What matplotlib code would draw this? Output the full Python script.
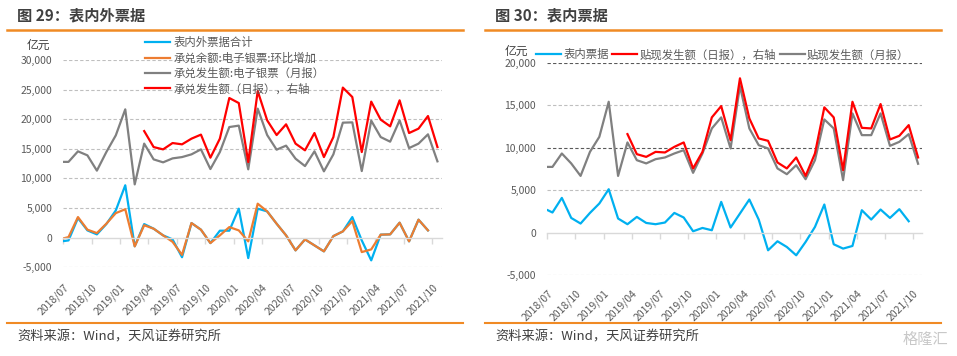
import numpy as np
import pandas as pd
import matplotlib
matplotlib.use("Agg")
import matplotlib.pyplot as plt
from matplotlib.lines import Line2D
from matplotlib.ticker import FuncFormatter

plt.rcParams['font.family'] = ['Noto Sans CJK SC', 'DejaVu Sans']

months = pd.period_range("2018-07", "2021-10", freq="M")
tick_labels = [m.strftime("%Y/%m") for m in months[::3]]

# 图29 (亿元), first value is an extra early-July point
total_bills = [-570, -460, 3310, 1230, 560, 2300, 4600, 8850, -1450, 2300, 1520, 390, -290,
               -3300, 2470, 1350, -910, 1180, 1180, 4900, -3440, 4900, 4440, 2360, 390, -2140,
               -290, -1300, -2310, 270, 1060, 3480, -460, -3830, 510, 560, 2530, -620, 3040, 1230]
accept_bal_chg = [-100, 100, 3480, 1350, 780, 2360, 4150, 4800, -1470, 2100, 1520, 390, -700,
                  -2900, 2470, 1350, -910, 390, 1790, 1230, -620, 5740, 4440, 2360, 390, -2140,
                  -290, -1300, -2310, 270, 1060, 2800, -2430, -1980, 510, 560, 2530, -620, 3040, 1230]
accept_month = [12800, 12800, 14580, 13900, 11320, 14460, 17280, 21670, 9000, 15880, 13220,
                12720, 13390, 13610, 14070, 14910, 11590, 14460, 18680, 18920, 11540, 21790,
                17330, 14860, 15540, 13340, 12090, 14580, 11200, 14070, 19420, 19470, 11250,
                19760, 16990, 16210, 19810, 15130, 15880, 17450, 12890]
# from 2019/03
accept_daily = [18000, 15300, 14910, 15980, 15760, 16720, 17400, 13510, 16720, 23580, 22730,
                12770, 24760, 19810, 17330, 19140, 15880, 14750, 17670, 13610, 16990, 25340,
                23750, 14460, 22970, 19930, 18800, 23190, 17670, 18410, 20540, 15300]

# 图30 (亿元)
onbook_bills = [2630, 2360, 4080, 1720, 1060, 2310, 3420, 5100, 1650, 980, 1840, 1130, 980,
                1180, 2310, 1770, 150, 540, 270, 3610, 590, 2240, 3890, 1530, -2090, -1030,
                -1700, -2680, -1110, 660, 3300, -1380, -1890, -1580, 2630, 1530, 2710, 1720,
                2750, 1330]
disc_daily = [11590, 9230, 8910, 9500, 9430, 10090, 10610, 7550, 9500, 13560, 14890, 10880,
              18160, 13440, 11080, 10800, 8250, 7550, 8840, 6670, 9310, 14740, 13560, 7350,
              15400, 12330, 12260, 15130, 10960, 11390, 12650, 8840]
disc_month = [7730, 7730, 9310, 8140, 6670, 9500, 11270, 15400, 6670, 10610, 8520, 8140, 8640,
              8840, 9310, 9700, 7030, 9310, 12260, 13560, 9900, 17250, 12260, 10290, 9900, 7550,
              6870, 7930, 6280, 8520, 13320, 12260, 6170, 14030, 11470, 11470, 14030, 10210,
              10680, 11590, 8100]

BLUE, ORANGE, GRAY, RED = "#00B0F0", "#ED7D31", "#808080", "#FF0000"
TXT = "#595959"
W, H = 957, 356


def xs_lead(n):
    # extra first point, then one point per month
    return np.r_[0.05, np.arange(n - 1) + 0.55]


def xs_from(n, start):
    return np.arange(n) + start + 0.55


def fx(px):
    return px / W


def fy(py):
    return 1 - py / H


def style_axes(ax, ymin, ymax, label_pad, dark=()):
    ax.set_xlim(0, 40)
    ax.set_ylim(ymin, ymax)
    ax.set_yticks(np.arange(ymin, ymax + 1, 5000))
    ax.yaxis.set_major_formatter(FuncFormatter(lambda v, p: f"{v:,.0f}"))
    for s in ["top", "right", "left"]:
        ax.spines[s].set_visible(False)
    ax.spines["bottom"].set_position(("data", 0))
    ax.spines["bottom"].set_color("#D9D9D9")
    ax.spines["bottom"].set_linewidth(1.0)
    ax.tick_params(axis="x", colors="#D9D9D9", labelcolor=TXT, labelsize=7.5,
                   length=4, width=1, pad=label_pad)
    ax.tick_params(axis="y", length=0, labelcolor=TXT, labelsize=7.5, pad=8)
    ax.set_xticks(np.arange(0, 40, 3))
    ax.set_xticklabels(tick_labels)
    for lab in ax.get_xticklabels():
        lab.set_rotation(45)
        lab.set_ha("right")
        lab.set_va("top")
        lab.set_rotation_mode("anchor")
    for v in ax.get_yticks():
        if v == 0:
            continue
        c = "#595959" if v in dark else "#BFBFBF"
        ax.axhline(v, color=c, lw=0.8, ls=(0, (3, 2)), zorder=0)


def frame(x0, x1, title):
    fig.text(fx(x0 + 10), fy(15), title, fontsize=11, fontweight="bold",
             color="#404040", va="center")
    fig.add_artist(Line2D([fx(x0), fx(x1)], [fy(29.5), fy(29.5)], color="#F08A24", lw=1.8))
    fig.add_artist(Line2D([fx(x0), fx(x1)], [fy(322.5), fy(322.5)], color="#F08A24", lw=1.5))
    fig.text(fx(x0 + 10), fy(337.5), "资料来源：Wind，天风证券研究所", fontsize=9.5,
             color="#404040", va="center")


fig = plt.figure(figsize=(W / 100, H / 100), dpi=100)

# ---- left: 图29
ax1 = fig.add_axes([fx(63.3), fy(267.3), fx(441.7 - 63.3), (267.3 - 60) / H])
style_axes(ax1, -5000, 30000, 28)
ax1.plot(xs_lead(len(total_bills)), total_bills, color=BLUE, lw=1.6, label="表内外票据合计")
ax1.plot(xs_lead(len(accept_bal_chg)), accept_bal_chg, color=ORANGE, lw=1.6,
         label="承兑余额:电子银票:环比增加")
ax1.plot(xs_lead(len(accept_month)), accept_month, color=GRAY, lw=1.6,
         label="承兑发生额:电子银票（月报）")
ax1.plot(xs_from(len(accept_daily), 8), accept_daily, color=RED, lw=1.6,
         label="承兑发生额（日报），右轴")
ax1.legend(loc="upper left", bbox_to_anchor=(fx(145), fy(37)), bbox_transform=fig.transFigure,
           frameon=False, fontsize=8.2, labelcolor=TXT, handlelength=2.2, handletextpad=0.3,
           labelspacing=0.36, borderpad=0, borderaxespad=0)
fig.text(fx(27), fy(45.5), "亿元", fontsize=8.5, color="#404040", va="center")
frame(7, 463, "图 29：表内外票据")

# ---- right: 图30
ax2 = fig.add_axes([fx(547.3), fy(275), fx(375), (275 - 62.7) / H])
style_axes(ax2, -5000, 20000, 36, dark=(10000, 20000))
ax2.plot(xs_lead(len(onbook_bills)), onbook_bills, color=BLUE, lw=1.6, label="表内票据")
ax2.plot(xs_from(len(disc_daily), 8), disc_daily, color=RED, lw=1.6,
         label="贴现发生额（日报），右轴", zorder=3)
ax2.plot(xs_lead(len(disc_month)), disc_month, color=GRAY, lw=1.6, label="贴现发生额（月报）")
ax2.legend(loc="upper left", bbox_to_anchor=(fx(536), fy(49)), bbox_transform=fig.transFigure,
           frameon=False, fontsize=8.2, labelcolor=TXT, ncol=3, handlelength=2.2,
           handletextpad=0.2, columnspacing=0.3, borderpad=0, borderaxespad=0)
fig.text(fx(505), fy(51.5), "亿元", fontsize=8.5, color="#404040", va="center")
frame(485, 941, "图 30：表内票据")

fig.text(fx(948), fy(339), "格隆汇", fontsize=11, color="#C8C8C8", ha="right", va="center")

fig.savefig("out.png", dpi=100)
